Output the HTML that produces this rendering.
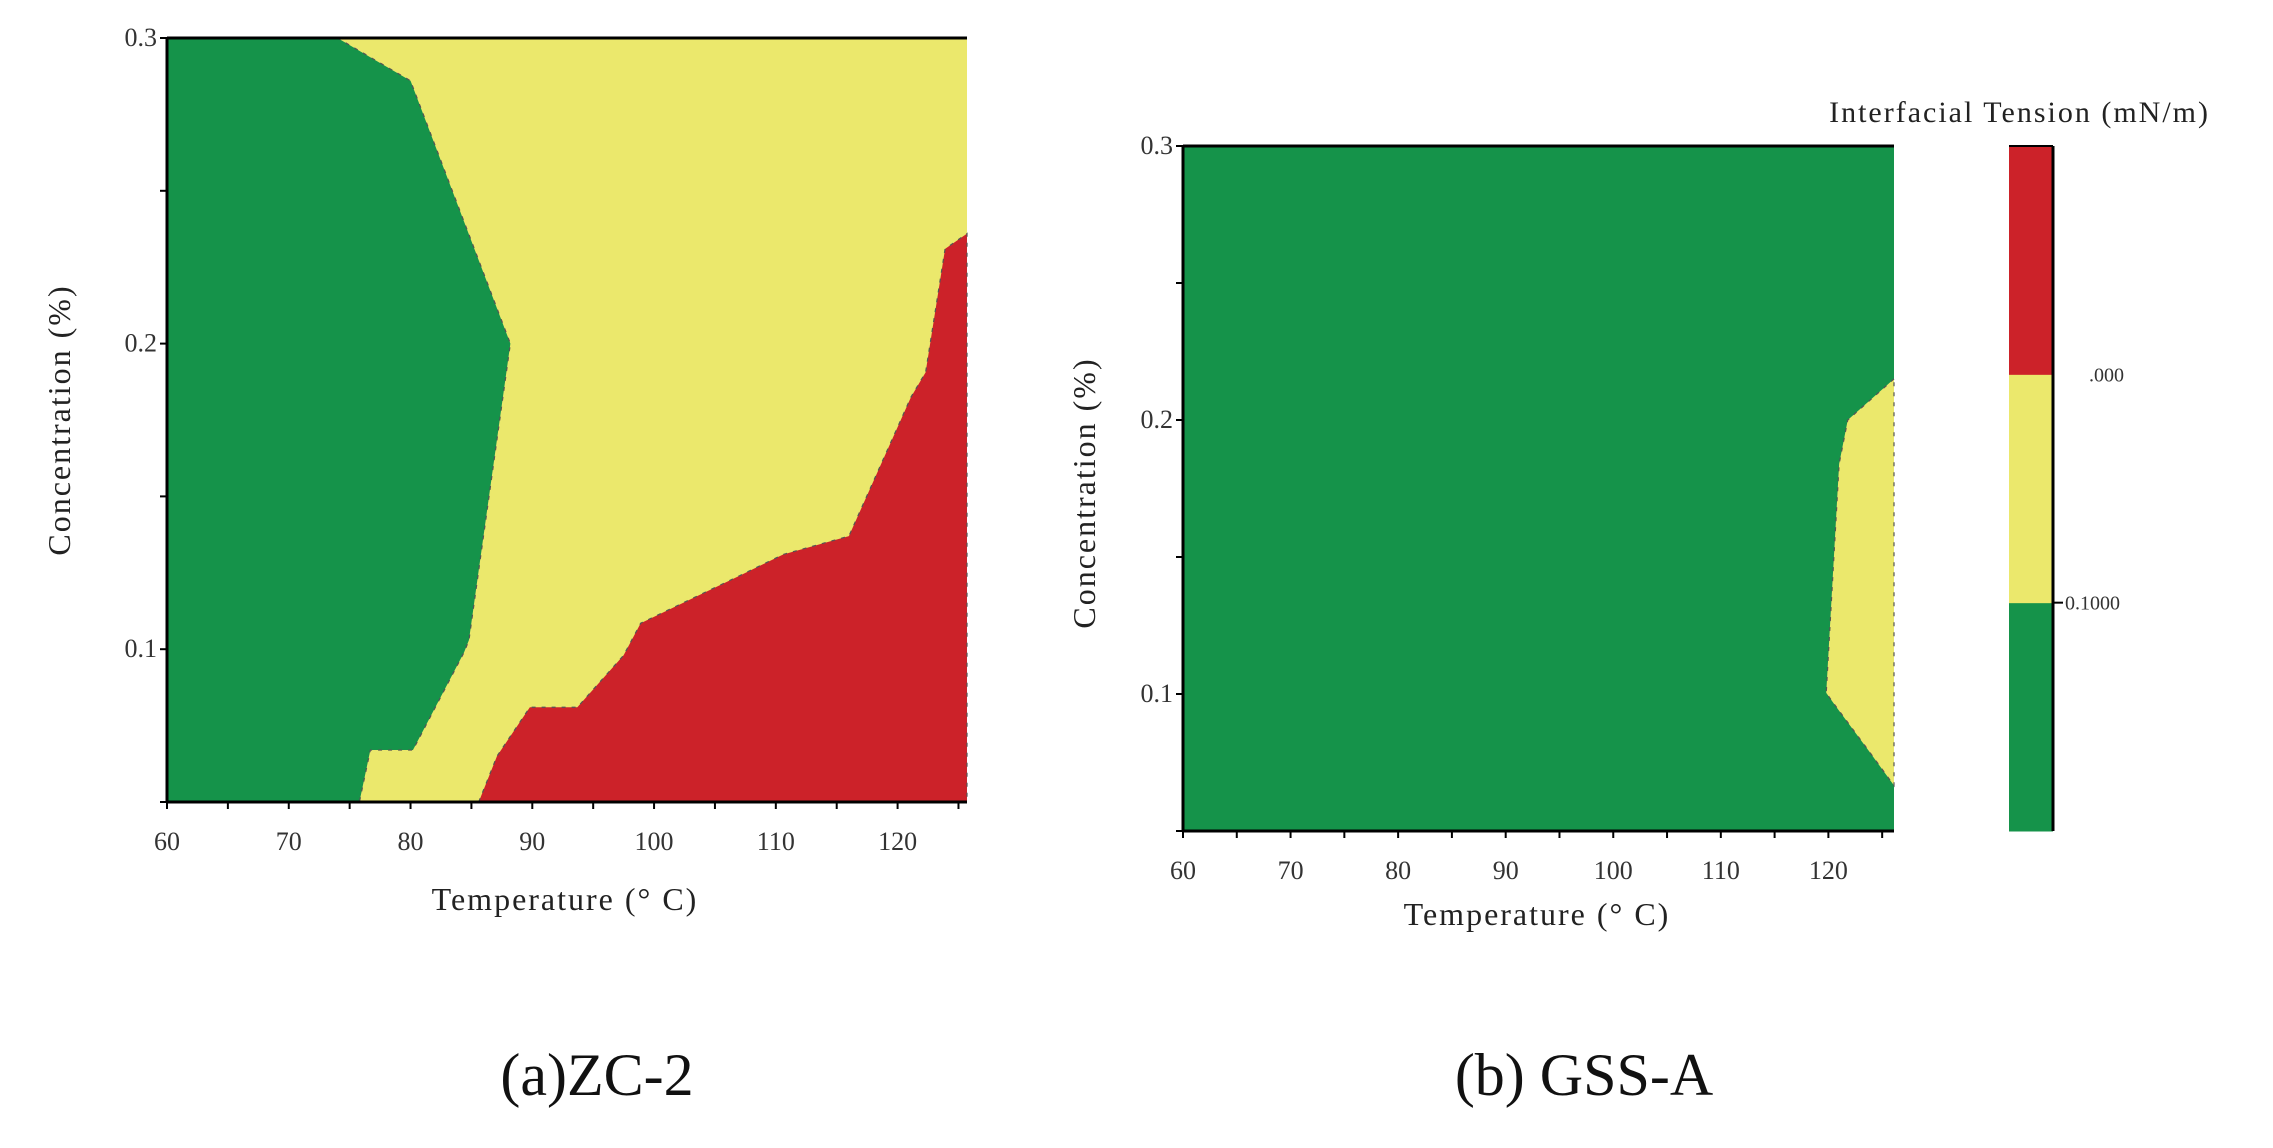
<!DOCTYPE html>
<html><head><meta charset="utf-8"><style>
html,body{margin:0;padding:0;background:#fff;}
svg{display:block;}
text{font-family:"Liberation Serif",serif;}
</style></head>
<body>
<svg id="fig" width="2273" height="1148" viewBox="0 0 2273 1148" xmlns="http://www.w3.org/2000/svg">
<g id="pa"></g>
<g id="pb"></g>
<g id="cb"></g>
<text x="597" y="1095" font-size="60" text-anchor="middle" fill="#111">(a)ZC-2</text>
<text x="1584" y="1095" font-size="60" text-anchor="middle" fill="#111">(b) GSS-A</text>
</svg>
<script>
const xTicks = [60,70,80,90,100,110,120];
const yTicks = [0.1,0.2,0.3];
const yTickLabels = ["0.1","0.2","0.3"];
// Panel A boundaries (temperature, concentration)
const aGreenT = [60,74,80,88.2,84.8,84.4,80.2,76.7,75.8,60];
const aGreenC = [0.3,0.3,0.286,0.2,0.103,0.099,0.067,0.067,0.05,0.05];
const aRedT = [85.6,87.1,89.8,93.7,97.5,98.9,107,110.6,116,121.1,122.3,123.9,125.7,125.7];
const aRedC = [0.05,0.065,0.081,0.081,0.098,0.1085,0.124,0.131,0.137,0.1825,0.1906,0.231,0.236,0.05];
// Panel B yellow region
const bYellowT = [126.1,121.8,121.0,119.8,120.6,123.8,126.1];
const bYellowC = [0.215,0.2,0.184,0.1004,0.096,0.079,0.0666];
const cbLevels = ["0.1000",".000"];
const cbColors = ["#15934a","#ebe86c","#cc2229"];

const NS="http://www.w3.org/2000/svg";
function mk(parent,tag,attrs){const e=document.createElementNS(NS,tag);for(const k in attrs)e.setAttribute(k,attrs[k]);parent.appendChild(e);return e;}
const G="#15934a",Y="#ebe86c",R="#cc2229";

function panel(gid,L,Rt,T,B,tmin,tmax,cmin,cmax,polys,xt,yt){
  const g=document.getElementById(gid);
  const sx=t=>L+(t-tmin)/(tmax-tmin)*(Rt-L);
  const sy=c=>T+(cmax-c)/(cmax-cmin)*(B-T);
  const bg=mk(g,'rect',{x:L,y:T,width:Rt-L,height:B-T,fill:polys.bg});
  
  
  polys.list.forEach(p=>{
    const pts=p.t.map((t,i)=>sx(t)+','+sy(p.c[i])).join(' ');
    const e=mk(g,'polygon',{points:pts,fill:p.fill,stroke:'#555',"stroke-width":1.2,"stroke-dasharray":"4 6"});
    
    
  });
  mk(g,'line',{x1:L,y1:T,x2:Rt,y2:T,stroke:'#000','stroke-width':3});
  mk(g,'line',{x1:L,y1:T,x2:L,y2:B,stroke:'#000','stroke-width':3});
  mk(g,'line',{x1:L,y1:B,x2:Rt,y2:B,stroke:'#000','stroke-width':3});
  for(let t=tmin;t<=tmax;t+=5){mk(g,'line',{x1:sx(t),y1:B,x2:sx(t),y2:B+7,stroke:'#000','stroke-width':2});}
  for(let c=0.05;c<=cmax+1e-9;c+=0.05){mk(g,'line',{x1:L-7,y1:sy(c),x2:L,y2:sy(c),stroke:'#000','stroke-width':2});}
  xTicks.forEach(t=>{const e=mk(g,'text',{x:sx(t),y:B+48,'font-size':26,'text-anchor':'middle',fill:'#333'});e.textContent=t;
    });
  yTicks.forEach((c,i)=>{const e=mk(g,'text',{x:L-10,y:sy(c)+8,'font-size':26,'text-anchor':'end',fill:'#333'});e.textContent=yTickLabels[i];
    });
  const xt2=mk(g,'text',{x:xt[0],y:xt[1],'font-size':32,'text-anchor':'middle',fill:'#222','letter-spacing':2});
  xt2.textContent='Temperature (° C)';
  
  const yt2=mk(g,'text',{x:yt[0],y:yt[1],'font-size':32,'text-anchor':'middle',fill:'#222','letter-spacing':2,transform:`rotate(-90 ${yt[0]} ${yt[1]})`});
  yt2.textContent='Concentration (%)';
  
}
panel('pa',167,967,38,802,60,125.7,0.05,0.3,{bg:Y,list:[
  {t:aGreenT,c:aGreenC,fill:G,name:'region-low-tension'},
  {t:aRedT,c:aRedC,fill:R,name:'region-high-tension'}]},[565,910],[70,420]);
panel('pb',1183,1894,146,831,60,126.1,0.05,0.3,{bg:G,list:[
  {t:bYellowT,c:bYellowC,fill:Y,name:'region-mid-tension'}]},[1537,925],[1095,493]);

// colorbar
const cb=document.getElementById('cb');
const cx=2009,cw=44,cT=146,cB=831,n=cbColors.length,h=(cB-cT)/n;
cbColors.forEach((col,i)=>{const e=mk(cb,'rect',{x:cx,y:cB-(i+1)*h,width:cw,height:h+0.5,fill:col});
  });
mk(cb,'line',{x1:cx,y1:cT,x2:cx+cw,y2:cT,stroke:'#000','stroke-width':2});
mk(cb,'line',{x1:cx+cw,y1:cT,x2:cx+cw,y2:cB,stroke:'#000','stroke-width':3});
cbLevels.forEach((lab,i)=>{const y=cB-(i+1)*h;
  if(i===0) mk(cb,'line',{x1:cx+cw,y1:y,x2:cx+cw+10,y2:y,stroke:'#000','stroke-width':2});
  const e=mk(cb,'text',{x:i===0?cx+cw+12:cx+cw+36,y:y+7,'font-size':20,fill:'#333'});e.textContent=lab;
  });
const ct=mk(cb,'text',{x:2210,y:122,'font-size':30,'text-anchor':'end',fill:'#222','letter-spacing':2});
ct.textContent='Interfacial Tension (mN/m)';

</script>
</body></html>
